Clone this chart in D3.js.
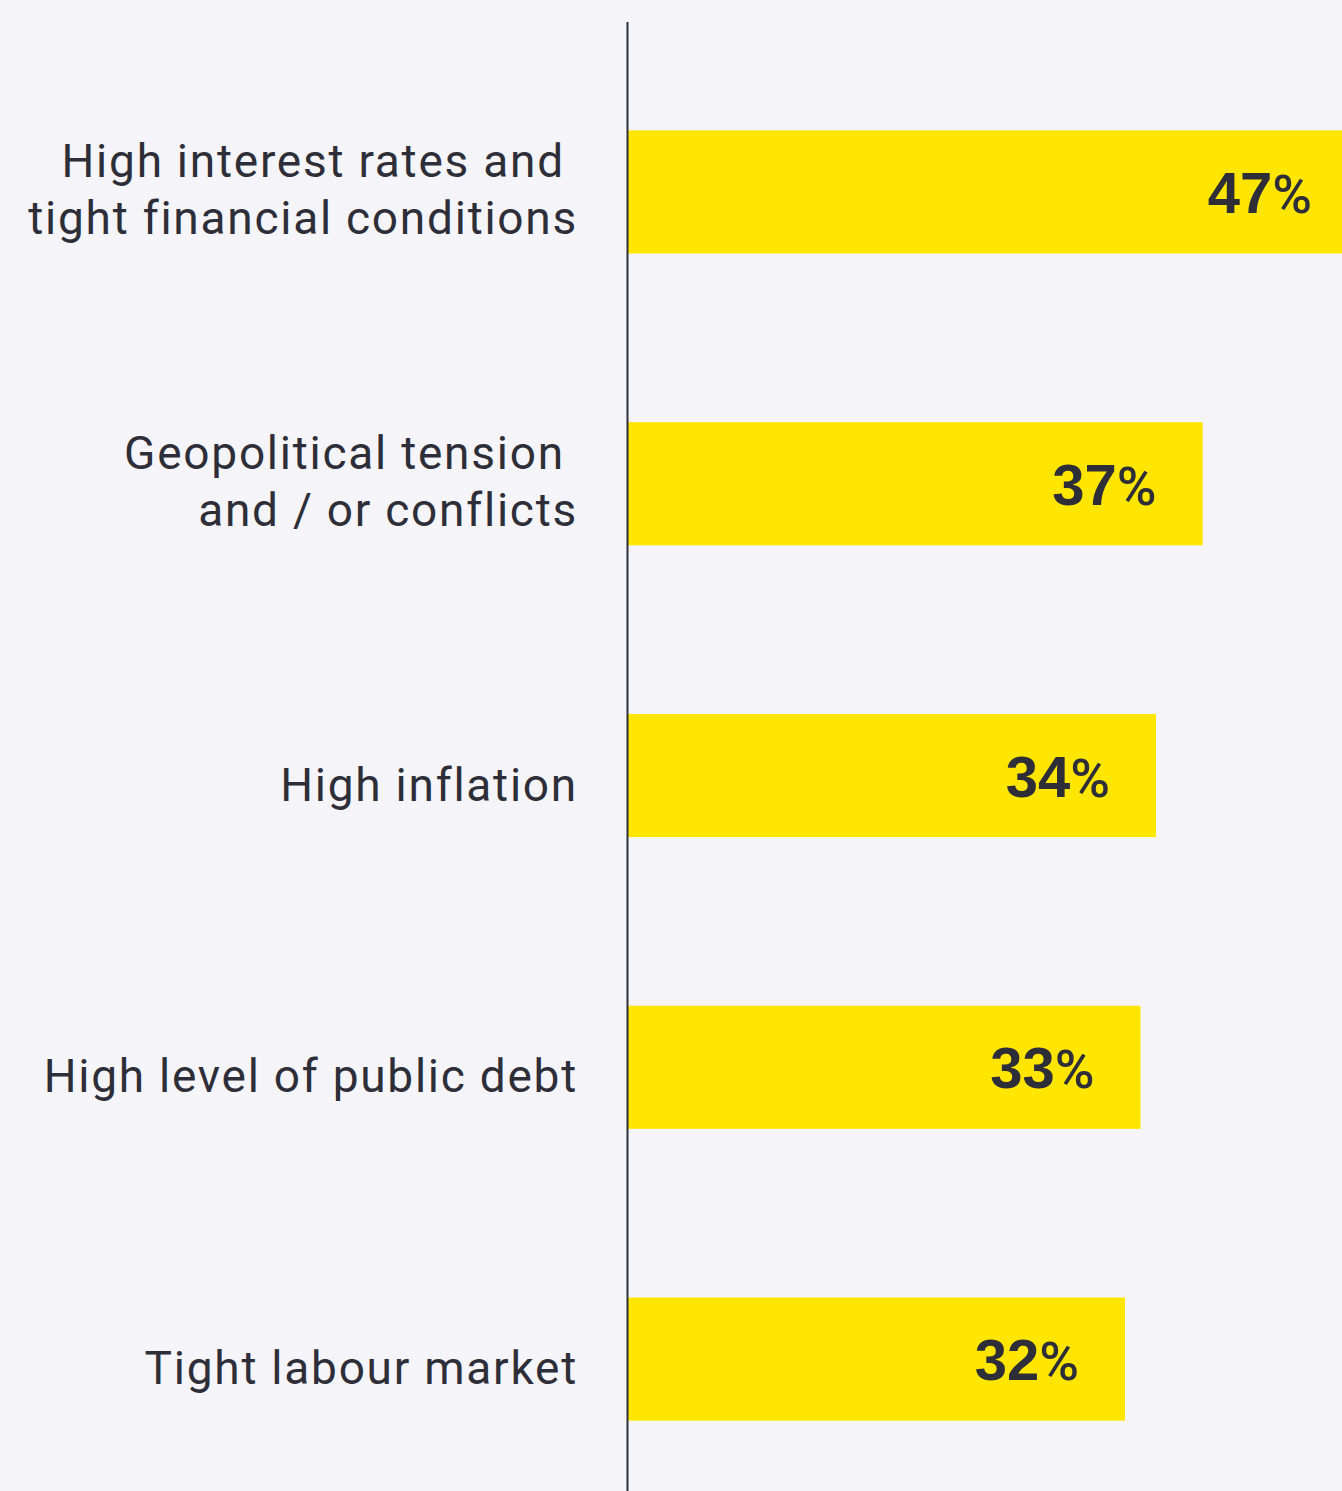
<!DOCTYPE html>
<html><head><meta charset="utf-8">
<script src="https://cdn.jsdelivr.net/npm/d3@7"></script>
<style>
html,body{margin:0;padding:0;background:#f5f5f9;}
svg{display:block;}
</style></head>
<body>
<svg id="chart" width="1342" height="1491"></svg>
<script>
const categories = [
  ["High interest rates and ", "tight financial conditions"],
  ["Geopolitical tension ", "and / or conflicts"],
  ["High inflation"],
  ["High level of public debt"],
  ["Tight labour market"]
];
const values = [47, 37, 34, 33, 32];
const valueLabels = ["47", "37", "34", "33", "32"];

const W = 1342, H = 1491;
const axisX = 628;
const svg = d3.select("#chart");
svg.append("rect").attr("width", W).attr("height", H).attr("fill", "#f5f5f9");

const idx = d3.range(values.length);
const y = d3.scaleBand().domain(idx).range([46, 1505]).paddingInner(0.578).paddingOuter(0.289);
const x = d3.scaleLinear().domain([0, 50]).range([axisX, axisX + 776.5]);

svg.append("g").selectAll("rect").data(idx).join("rect")
  .attr("x", x(0)).attr("y", i => y(i))
  .attr("width", i => x(values[i]) - x(0))
  .attr("height", y.bandwidth())
  .attr("fill", "#ffe600");

svg.append("line").attr("x1", axisX - 0.5).attr("x2", axisX - 0.5)
  .attr("y1", 22).attr("y2", H).attr("stroke", "#2e2e38").attr("stroke-width", 2);

// category labels
const labelX = 578, lineH = 57;
idx.forEach(i => {
  const lines = categories[i];
  const cy = y(i) + y.bandwidth() / 2;
  const base = cy + 25 - (lines.length - 1) * lineH / 2 - (lines.length > 1 ? 11 : 0);
  const t = svg.append("text")
    .attr("text-anchor", "end")
    .attr("font-family", "Roboto, 'Open Sans', sans-serif")
    .attr("font-size", 46)
    .attr("letter-spacing", 1.75)
    .attr("fill", "#2e2e38")
    .style("white-space", "pre");
  lines.forEach((ln, j) => {
    t.append("tspan").attr("x", labelX).attr("y", base + j * lineH).text(ln);
  });
});

// value labels
idx.forEach(i => {
  const cy = y(i) + y.bandwidth() / 2;
  const t = svg.append("text")
    .attr("x", x(values[i]) - 46)
    .attr("y", cy + 21)
    .attr("text-anchor", "end")
    .attr("font-family", "'Liberation Sans', Arial, sans-serif")
    .attr("font-size", 58)
    .attr("font-weight", "bold")
    .attr("fill", "#2e2e38");
  t.append("tspan").text(valueLabels[i]);
  t.append("tspan").attr("font-weight", 500).attr("font-family", "Roboto, sans-serif").attr("font-size", 54).text("%");
});
</script>
</body></html>
